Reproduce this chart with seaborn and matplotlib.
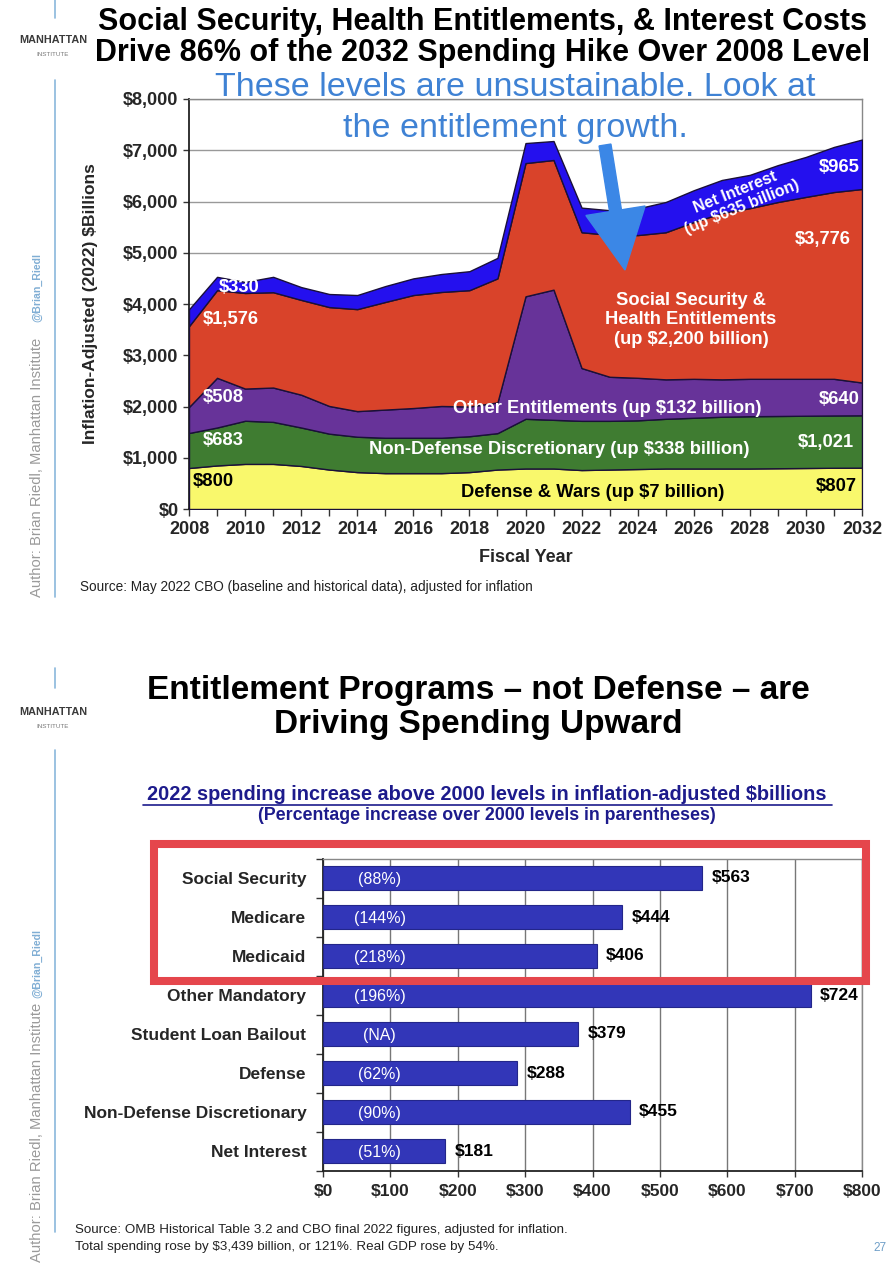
import numpy as np
import pandas as pd
import matplotlib
matplotlib.use("Agg")
import matplotlib.pyplot as plt
import seaborn as sns
from matplotlib.patches import Rectangle, FancyArrow

# ---- top chart: spending by category, inflation-adjusted 2022 $billions ----
years = list(range(2008, 2033))
defense = [800, 850, 880, 880, 840, 770, 720, 700, 700, 700, 720, 770, 790,
           790, 760, 770, 780, 790, 790, 790, 790, 795, 800, 805, 807]
nondefense = [683, 740, 842, 820, 750, 700, 690, 690, 690, 690, 700, 710, 970,
              950, 960, 950, 950, 970, 990, 1010, 1020, 1020, 1020, 1020, 1021]
other_ent = [508, 970, 628, 670, 640, 540, 500, 550, 580, 620, 580, 600, 2390,
             2540, 1030, 860, 830, 770, 760, 730, 730, 725, 720, 715, 640]
ss_health = [1576, 1710, 1865, 1860, 1850, 1930, 1990, 2100, 2205, 2225, 2270, 2420, 2600,
             2530, 2650, 2770, 2785, 2870, 3060, 3245, 3330, 3450, 3550, 3645, 3776]
net_interest = [330, 260, 215, 300, 250, 255, 275, 310, 325, 350, 370, 400, 390,
                370, 480, 480, 520, 590, 620, 645, 650, 720, 780, 880, 965]
y_ticks = [0, 1000, 2000, 3000, 4000, 5000, 6000, 7000, 8000]

# ---- bottom chart: 2022 increase above 2000 levels ----
programs = ['Social Security', 'Medicare', 'Medicaid', 'Other Mandatory',
            'Student Loan Bailout', 'Defense', 'Non-Defense Discretionary', 'Net Interest']
increase = [563, 444, 406, 724, 379, 288, 455, 181]
pct_labels = ['(88%)', '(144%)', '(218%)', '(196%)', '(NA)', '(62%)', '(90%)', '(51%)']
x_ticks = [0, 100, 200, 300, 400, 500, 600, 700, 800]

sns.set_theme(style="white")
plt.rcParams['font.family'] = ['Liberation Sans', 'DejaVu Sans']

W, H = 896, 1280
fig = plt.figure(figsize=(W / 100, H / 100), dpi=100)

def px_axes(x0, y0, x1, y1):
    return fig.add_axes([x0 / W, 1 - y1 / H, (x1 - x0) / W, (y1 - y0) / H])

# ---------------- top stacked area ----------------
ax1 = px_axes(189, 99, 862, 509)
colors = ['#f9f86c', '#3f7c31', '#673399', '#d9432a', '#2410ee']
ax1.stackplot(years, defense, nondefense, other_ent, ss_health, net_interest,
              colors=colors, edgecolor='#1a1038', linewidth=1.0, zorder=3)
ax1.set_xlim(2008, 2032)
ax1.set_ylim(0, 8000)
ax1.set_yticks(y_ticks)
ax1.set_yticklabels([f'${v:,}' for v in y_ticks], fontsize=13, fontweight='bold')
ax1.set_xticks(years[::2])
ax1.set_xticks(years, minor=True)
ax1.set_xticklabels([str(y) for y in years[::2]], fontsize=13, fontweight='bold')
ax1.tick_params(axis='x', which='both', direction='out', length=5, width=1, color='#333', bottom=True)
ax1.tick_params(axis='y', direction='out', length=4, width=1, color='#333', left=True)
ax1.grid(axis='y', color='#999999', linewidth=1, zorder=0)
ax1.set_axisbelow(True)
for s in ['left', 'bottom']:
    ax1.spines[s].set_color('#222')
    ax1.spines[s].set_linewidth(1.3)
for s in ['top', 'right']:
    ax1.spines[s].set_color('#888')
    ax1.spines[s].set_linewidth(1)
ax1.set_ylabel('Inflation-Adjusted (2022) $Billions', fontsize=12.5, fontweight='bold', labelpad=18)
ax1.set_xlabel('Fiscal Year', fontsize=13, fontweight='bold', labelpad=8)

lab = dict(fontsize=13.2, fontweight='bold', zorder=5)
ax1.text(2008.5, 3690, '$1,576', color='white', ha='left', va='center', **lab)
ax1.text(2009.8, 4330, '$330', color='white', ha='center', va='center', **lab)
ax1.text(2008.5, 2166, '$508', color='white', ha='left', va='center', **lab)
ax1.text(2008.5, 1327, '$683', color='white', ha='left', va='center', **lab)
ax1.text(2008.15, 527, '$800', color='black', ha='left', va='center', **lab)
ax1.text(2022.9, 1970, 'Other Entitlements (up $132 billion)', color='white', ha='center', va='center', **lab)
ax1.text(2021.2, 1170, 'Non-Defense Discretionary (up $338 billion)', color='white', ha='center', va='center', **lab)
ax1.text(2022.4, 330, 'Defense & Wars (up $7 billion)', color='black', ha='center', va='center', **lab)
ax1.text(2031.2, 2127, '$640', color='white', ha='center', va='center', **lab)
ax1.text(2030.7, 1290, '$1,021', color='white', ha='center', va='center', **lab)
ax1.text(2031.1, 430, '$807', color='black', ha='center', va='center', **lab)
ax1.text(2030.6, 5250, '$3,776', color='white', ha='center', va='center', **lab)
ax1.text(2031.2, 6670, '$965', color='white', ha='center', va='center', **lab)
ax1.text(2025.9, 3690, 'Social Security &\nHealth Entitlements\n(up $2,200 billion)',
         color='white', ha='center', va='center', linespacing=1.2, **lab)
ax1.text(2027.6, 6030, 'Net Interest\n(up $635 billion)', color='white', ha='center',
         va='center', rotation=22, linespacing=1.1, fontsize=11.5, fontweight='bold', zorder=5)

# ---------------- bottom horizontal bars ----------------
ax2 = px_axes(323, 858.5, 862, 1170.5)
df = pd.DataFrame({'program': programs, 'increase': increase})
sns.barplot(data=df, y='program', x='increase', orient='h', color='#3236b8',
            saturation=1, width=0.62, edgecolor='#23268a', linewidth=0.8, ax=ax2, zorder=3)
ax2.set_xlim(0, 800)
ax2.set_xticks(x_ticks)
ax2.set_xticklabels([f'${v}' for v in x_ticks], fontsize=12.5, fontweight='bold')
ax2.set_yticks(range(len(programs)))
ax2.set_yticklabels(programs, fontsize=12.5, fontweight='bold')
ax2.set_yticks(np.arange(-0.5, len(programs), 1), minor=True)
ax2.tick_params(axis='y', which='major', length=0, pad=12)
ax2.tick_params(axis='y', which='minor', direction='out', length=5, width=1, color='#333', left=True)
ax2.tick_params(axis='x', direction='out', length=4, width=1, color='#333', bottom=True, pad=6)
ax2.set_xlabel('')
ax2.set_ylabel('')
ax2.grid(axis='x', color='#777777', linewidth=1, zorder=0)
ax2.set_axisbelow(True)
for s in ['left', 'bottom']:
    ax2.spines[s].set_color('#222')
    ax2.spines[s].set_linewidth(1.3)
for s in ['top', 'right']:
    ax2.spines[s].set_color('#888')
    ax2.spines[s].set_linewidth(1)
for i, (v, p) in enumerate(zip(increase, pct_labels)):
    ax2.text(v + 14, i, f'${v}', ha='left', va='center', fontsize=12.5, fontweight='bold', color='black', zorder=5)
    ax2.text(84, i + 0.05, p, ha='center', va='center', fontsize=11.5, color='white', zorder=5)

# ---------------- overlay in pixel coordinates ----------------
ov = fig.add_axes([0, 0, 1, 1], zorder=10)
ov.set_xlim(0, W)
ov.set_ylim(H, 0)
ov.axis('off')

title_kw = dict(ha='center', va='center', fontweight='bold', color='black')
ov.text(483, 22, 'Social Security, Health Entitlements, & Interest Costs', fontsize=22, **title_kw)
ov.text(483, 53, 'Drive 86% of the 2032 Spending Hike Over 2008 Level', fontsize=22, **title_kw)

blue_txt = '#3f82d4'
ov.text(515, 87, 'These levels are unsustainable. Look at', fontsize=24.5, color=blue_txt, ha='center', va='center')
ov.text(515, 128, 'the entitlement growth.', fontsize=24.5, color=blue_txt, ha='center', va='center')
ov.add_patch(FancyArrow(605, 145, 20, 125, width=12, head_width=60, head_length=60,
                        length_includes_head=True, color='#3b87e6', zorder=11))

ov.text(80, 587, 'Source: May 2022 CBO (baseline and historical data), adjusted for inflation',
        fontsize=9.8, color='#222', ha='left', va='center')

ov.text(478, 690, 'Entitlement Programs \u2013 not Defense \u2013 are', fontsize=24, fontweight='bold', ha='center', va='center', color='black')
ov.text(478, 724, 'Driving Spending Upward', fontsize=24, fontweight='bold', ha='center', va='center', color='black')

navy = '#1d1b8c'
ov.text(487, 794, '2022 spending increase above 2000 levels in inflation-adjusted $billions',
        fontsize=14.3, fontweight='bold', color=navy, ha='center', va='center')
ov.plot([143, 832], [805, 805], color=navy, linewidth=1.2)
ov.text(487, 815, '(Percentage increase over 2000 levels in parentheses)',
        fontsize=12.8, fontweight='bold', color=navy, ha='center', va='center')

ov.add_patch(Rectangle((154, 844), 712, 137, fill=False, edgecolor='#e5464c', linewidth=5.8))

ov.text(75, 1230, 'Source: OMB Historical Table 3.2 and CBO final 2022 figures, adjusted for inflation.',
        fontsize=9.6, color='#222', ha='left', va='center')
ov.text(75, 1247, 'Total spending rose by $3,439 billion, or 121%. Real GDP rose by 54%.',
        fontsize=9.6, color='#222', ha='left', va='center')
ov.text(880, 1248, '27', fontsize=8.5, color='#6f9fc8', ha='center', va='center')

# side decorations: logo, author strip, light blue rule
for ly, a0, a1 in [(40, 597, 322), (712, 1262, 998)]:
    ov.text(53, ly, 'MANHATTAN', fontsize=7.8, fontweight='bold', color='#3a3a3a', ha='center', va='center')
    ov.text(53, ly + 15, 'INSTITUTE', fontsize=4.5, color='#777', ha='center', va='center')
    ov.text(37, a0, 'Author: Brian Riedl, Manhattan Institute', fontsize=10.6, color='#9a9a9a',
            rotation=90, ha='center', va='bottom')
    ov.text(37, a1, '@Brian_Riedl', fontsize=7.6, fontweight='bold', color='#80aed4',
            rotation=90, ha='center', va='bottom')
for y0, y1 in [(0, 18), (80, 597), (668, 688), (750, 1232)]:
    ov.plot([55, 55], [y0, y1], color='#8ab8dc', linewidth=1.2)

fig.savefig('out.png', dpi=100, facecolor='white')
